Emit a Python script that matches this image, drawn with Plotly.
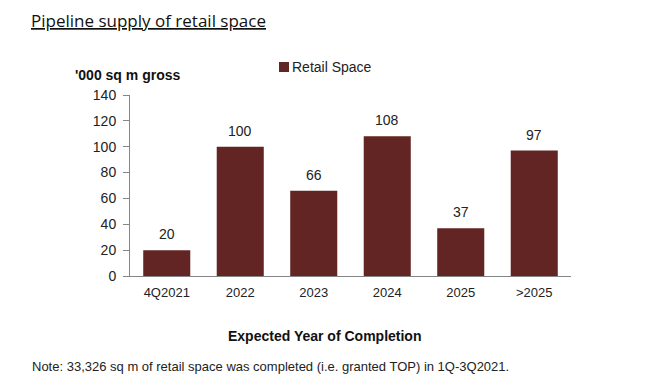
import plotly.graph_objects as go

categories = ["4Q2021", "2022", "2023", "2024", "2025", ">2025"]
retail_space = [20, 100, 66, 108, 37, 97]
y_ticks = [0, 20, 40, 60, 80, 100, 120, 140]

BAR = "#632523"
W, H = 649, 389
L, R, T, B = 130, 78, 95, 113

fig = go.Figure()
fig.add_trace(go.Bar(
    x=categories, y=retail_space, name="Retail Space",
    marker=dict(color=BAR, line=dict(width=0)),
    width=0.64,
    cliponaxis=False, showlegend=False,
))

def px_x(p):
    return (p - L) / (W - L - R)

def px_y(p):
    return (H - B - p) / (H - T - B)

value_labels = [
    dict(text=str(v), x=i, y=v, xref="x", yref="y", yshift=16,
         xanchor="center", yanchor="middle", showarrow=False,
         font=dict(family="Arial", size=14, color="#222"))
    for i, v in enumerate(retail_space)
]

fig.update_layout(
    width=W, height=H,
    margin=dict(l=L, r=R, t=T, b=B),
    plot_bgcolor="white", paper_bgcolor="white",
    font=dict(family="Arial", size=13, color="#222"),
    showlegend=False,
    bargap=0.36,
    xaxis=dict(type="category", categoryorder="array", categoryarray=categories,
               showline=True, linecolor="#868686", linewidth=1, ticks="",
               ticklabelstandoff=4,
               tickfont=dict(family="Arial", size=13, color="#222"), showgrid=False),
    yaxis=dict(range=[0, 140], tickvals=y_ticks, showline=True, linecolor="#868686",
               linewidth=1, ticks="outside", ticklen=6, tickcolor="#868686",
               ticklabelstandoff=4,
               showgrid=False, zeroline=False,
               tickfont=dict(family="Arial", size=14, color="#222")),
    shapes=[
        dict(type="rect", xref="paper", yref="paper",
             x0=px_x(279), x1=px_x(289), y0=px_y(62), y1=px_y(72),
             fillcolor=BAR, line=dict(width=0)),
    ],
    annotations=value_labels + [
        dict(text="Retail Space", x=px_x(290), y=px_y(67),
             xref="paper", yref="paper", xanchor="left", yanchor="middle",
             showarrow=False, font=dict(family="Arial", size=14, color="#222")),
        dict(text="<u>Pipeline supply of retail space</u>", x=px_x(29), y=px_y(20),
             xref="paper", yref="paper", xanchor="left", yanchor="middle",
             showarrow=False, font=dict(family="Open Sans", size=17, color="#111")),
        dict(text="<b>'000 sq m gross</b>", x=px_x(73), y=px_y(75),
             xref="paper", yref="paper", xanchor="left", yanchor="middle",
             showarrow=False, font=dict(family="Arial", size=14, color="#111")),
        dict(text="<b>Expected Year of Completion</b>", x=px_x(324), y=px_y(336),
             xref="paper", yref="paper", xanchor="center", yanchor="middle",
             showarrow=False, font=dict(family="Arial", size=14, color="#111")),
        dict(text="Note: 33,326 sq m of retail space was completed (i.e. granted TOP) in 1Q-3Q2021.",
             x=px_x(30), y=px_y(366),
             xref="paper", yref="paper", xanchor="left", yanchor="middle",
             showarrow=False, font=dict(family="Arial", size=13, color="#222")),
    ],
)

fig.write_html("out.html", config={"displayModeBar": False},
               post_script="document.body.style.margin='0';document.body.style.overflow='hidden';")
